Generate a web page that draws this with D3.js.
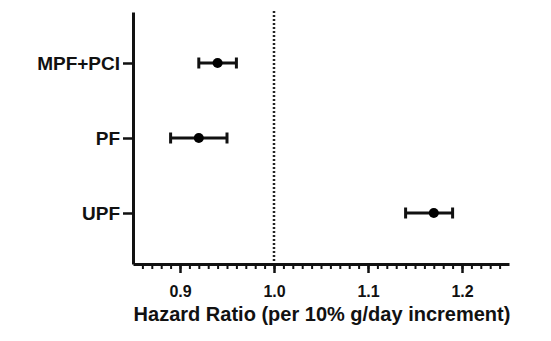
<!DOCTYPE html>
<html>
<head>
<meta charset="utf-8">
<script src="https://cdn.jsdelivr.net/npm/d3@7"></script>
<style>
  body { margin: 0; background: #fff; }
  text { font-family: "Liberation Sans", Arial, sans-serif; font-weight: bold; fill: #111; }
</style>
</head>
<body>
<div id="chart"></div>
<script>
// data
var groups = ["MPF+PCI", "PF", "UPF"];
var hr = [0.94, 0.92, 1.17];
var lower = [0.92, 0.89, 1.14];
var upper = [0.96, 0.95, 1.19];
var xTicks = [0.9, 1.0, 1.1, 1.2];

var W = 551, H = 341;
var margin = {left: 133, right: 42, top: 12, bottom: 77};
var width = W - margin.left - margin.right;
var height = H - margin.top - margin.bottom;

var svg = d3.select("#chart").append("svg")
    .attr("width", W)
    .attr("height", H);

var chart = svg.append("g")
    .attr("transform", "translate(" + margin.left + "," + margin.top + ")");

var x = d3.scaleLinear()
    .domain([0.85, 1.25])
    .range([0, width]);

var y = d3.scalePoint()
    .domain(groups)
    .range([0, height])
    .padding(0.68);

// reference line at HR = 1
chart.append("line")
    .attr("x1", x(1)).attr("x2", x(1))
    .attr("y1", -1).attr("y2", height)
    .attr("stroke", "#222")
    .attr("stroke-width", 2.5)
    .attr("stroke-dasharray", "2,2");

// minor ticks every 0.01
var minor = d3.range(86, 125).map(function(d) { return d / 100; });
chart.append("g")
    .attr("transform", "translate(0," + height + ")")
    .call(d3.axisBottom(x).tickValues(minor).tickSize(5).tickFormat(""))
    .call(function(g) {
        g.select(".domain").remove();
        g.selectAll("line").attr("stroke", "#111").attr("stroke-width", 2);
    });

// x axis
var xAxis = chart.append("g")
    .attr("transform", "translate(0," + height + ")")
    .call(d3.axisBottom(x).tickValues(xTicks).tickSize(9).tickSizeOuter(0).tickPadding(13)
        .tickFormat(d3.format(".1f")));
xAxis.select(".domain").attr("stroke", "#111").attr("stroke-width", 3);
xAxis.selectAll(".tick line").attr("stroke", "#111").attr("stroke-width", 2.5);
xAxis.selectAll("text").style("font-size", "16px").attr("fill", "#111");

// y axis
var yAxis = chart.append("g")
    .call(d3.axisLeft(y).tickSize(10).tickSizeOuter(0).tickPadding(3));
yAxis.select(".domain").attr("stroke", "#111").attr("stroke-width", 3);
yAxis.selectAll(".tick line").attr("stroke", "#111").attr("stroke-width", 2.5);
yAxis.selectAll("text").style("font-size", "19px").attr("fill", "#111");

// axis title
chart.append("text")
    .attr("x", width / 2 + 1)
    .attr("y", height + 57)
    .attr("text-anchor", "middle")
    .style("font-size", "20px")
    .text("Hazard Ratio (per 10% g/day increment)");

// error bars
var rows = groups.map(function(g, i) {
    return {name: g, hr: hr[i], lo: lower[i], hi: upper[i]};
});

var bars = chart.append("g").selectAll("g")
    .data(rows)
    .enter().append("g");

bars.append("line")
    .attr("x1", function(d) { return x(d.lo); })
    .attr("x2", function(d) { return x(d.hi); })
    .attr("y1", function(d) { return y(d.name); })
    .attr("y2", function(d) { return y(d.name); })
    .attr("stroke", "#111").attr("stroke-width", 3);

bars.selectAll("line.cap")
    .data(function(d) { return [{v: d.lo, name: d.name}, {v: d.hi, name: d.name}]; })
    .enter().append("line")
    .classed("cap", true)
    .attr("x1", function(d) { return x(d.v); })
    .attr("x2", function(d) { return x(d.v); })
    .attr("y1", function(d) { return y(d.name) - 5.5; })
    .attr("y2", function(d) { return y(d.name) + 5.5; })
    .attr("stroke", "#111").attr("stroke-width", 3);

bars.append("circle")
    .attr("cx", function(d) { return x(d.hr); })
    .attr("cy", function(d) { return y(d.name); })
    .attr("r", 5)
    .attr("fill", "#000");
</script>
</body>
</html>
